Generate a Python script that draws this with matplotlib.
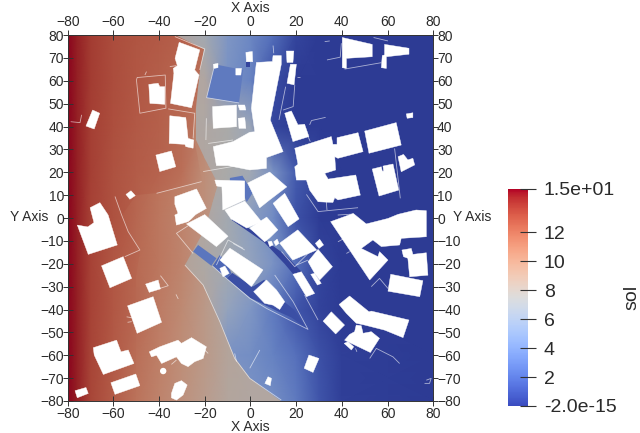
import numpy as np
import matplotlib
matplotlib.use("Agg")
import matplotlib.pyplot as plt
from matplotlib.colors import ListedColormap
from matplotlib.path import Path
from matplotlib.patches import Polygon, Circle
from matplotlib.cm import ScalarMappable
from matplotlib.colors import Normalize

plt.rcParams['font.family'] = ['Liberation Sans', 'DejaVu Sans']

# field values, west part of the domain
west_x = [-80, -76, -70, -60, -50, -40, -30, -20, -10, 0, 20]
field_y = [80, 60, 40, 20, 0, -20, -40, -60, -80]
west_sol = [
    [15, 14.5, 13.6, 13.0, 12.6, 12.3, 11.8, 10.5, 9.0, 8.0, 8.0],
    [15, 14.5, 13.6, 13.0, 12.5, 12.1, 11.5, 10.5, 9.0, 8.0, 8.0],
    [15, 14.5, 13.5, 12.9, 12.4, 11.9, 11.3, 10.2, 8.5, 8.0, 8.0],
    [15, 14.5, 13.5, 12.8, 12.1, 11.4, 10.8, 10.0, 8.7, 8.0, 8.0],
    [15, 14.5, 13.4, 12.7, 11.9, 11.2, 10.6, 9.8, 8.5, 8.0, 8.0],
    [15, 14.5, 13.4, 12.6, 11.8, 11.2, 10.5, 9.5, 8.2, 7.8, 7.8],
    [15, 14.5, 13.4, 12.6, 11.9, 11.0, 10.2, 9.2, 8.2, 7.8, 7.8],
    [15, 14.5, 13.3, 12.5, 11.6, 10.8, 10.0, 9.2, 8.3, 8.0, 8.0],
    [15, 14.5, 13.3, 12.4, 11.4, 10.6, 9.8, 9.0, 8.2, 8.0, 8.0],
]

# red part, behind the walls north of the tan area
red_x = [-80, -76, -70, -60, -50, -40, -30, -20]
red_y = [80, 60, 40, 20, 0, -20, -40, -80]
red_sol = [
    [15, 14.5, 13.6, 13.0, 12.7, 12.5, 12.2, 11.5],
    [15, 14.5, 13.6, 13.0, 12.6, 12.3, 12.0, 11.5],
    [15, 14.5, 13.5, 12.9, 12.5, 12.2, 11.8, 11.0],
    [15, 14.5, 13.5, 12.8, 12.4, 12.1, 11.6, 10.0],
    [15, 14.5, 13.4, 12.8, 12.3, 11.5, 10.8, 9.8],
    [15, 14.5, 13.4, 12.6, 12.0, 11.2, 10.5, 9.5],
    [15, 14.5, 13.4, 12.6, 11.9, 11.0, 10.2, 9.2],
    [15, 14.5, 13.3, 12.4, 11.4, 10.6, 9.8, 9.0],
]
red_region = [(-80, 80), (-33, 80), (-20, 73.9), (-22.2, 64.7), (-24.4, 45.8), (-25.1, 34.8), (-24, 30), (-21.4, 15.9),
              (-41.1, 10.8), (-50, 10), (-56.4, 1.3), (-53.5, -6), (-48.4, -14), (-50, -25), (-50, -80), (-80, -80)]

# east of the walls
east_x = [-40, -20, -10, 0, 10, 20, 30, 40, 80]
east_sol = [
    [9.0, 7.0, 4.8, 3.8, 2.4, 0.5, 0, 0, 0],
    [8.0, 8.0, 4.5, 3.5, 0.8, 0, 0, 0, 0],
    [8.0, 7.9, 7.5, 6.5, 0.5, 0, 0, 0, 0],
    [8.5, 8.0, 7.5, 6.8, 4.5, 1.5, 0.4, 0, 0],
    [8.5, 8.0, 7.0, 5.5, 4.0, 1.0, 0.1, 0, 0],
    [9.0, 7.8, 7.0, 6.0, 4.5, 2.5, 0.5, 0, 0],
    [9.0, 8.0, 6.0, 4.8, 3.0, 1.2, 0.4, 0, 0],
    [9.0, 8.2, 4.5, 4.2, 3.4, 2.5, 1.0, 0.2, 0],
    [9.0, 8.0, 6.0, 4.5, 4.2, 3.0, 1.2, 0.2, 0],
]
east_region = [(-33, 80), (-20.5, 74), (-22.2, 64.7), (-24, 48), (-24, 34), (-20, 26), (-14, 15), (-20, -5),
               (-28.7, -20.6), (-20.7, -29.3), (-13.4, -45.3), (-6.9, -61.4), (-0.3, -70.1), (13.5, -80),
               (80, -80), (80, 80)]

# enclosed pockets with their own sol level
pockets = [
    ([(-15.6, 67.2), (-3.2, 64.7), (-5, 50.3), (-19.2, 52.6)], 3.0),
    ([(-1.8, 68.3), (0, 68.3), (0, 66), (-1.8, 66)], 0.5),
    ([(-9, 17.5), (-3.5, 18.5), (1, 11), (-1.6, 7), (-5.5, 15.9), (-9, 15.9)], 2.8),
    ([(-25.1, -14.7), (-22.9, -11.8), (-14.9, -17.6), (-17.1, -20.9)], 2.8),
    ([(-16.6, -21), (-13.4, -16.2), (-10.5, -19.1), (-8.3, -24.2), (-10.5, -26.4)], 2.0),
    ([(-10.5, -26.4), (-8, -24), (1, -30), (6, -27), (14, -36), (19, -40), (25.2, -48.7), (18, -43.5),
      (12.8, -41.2), (0, -35)], 0.9),
    ([(-7.7, 1.3), (-0.3, -4.8), (6.3, -9.6), (15.4, -16.2), (23.7, -24.9), (19.8, -25.8), (15, -20.1),
      (6.3, -10.9), (-8.2, -0.9)], 0.4),
]

buildings = [
    [(-31.2, 76.8), (-22.2, 73.5), (-24.4, 64.7), (-22.5, 62.5), (-25.8, 48.2), (-35, 50.1), (-33.5, 63.3),
     (-33.8, 65.4), (-32, 66.6), (-33, 69.8)],
    [(-44.5, 58.4), (-40.4, 58.9), (-39.7, 57.4), (-37.5, 57.4), (-37.5, 49.7), (-44, 50.1)],
    [(-69.1, 47.2), (-66, 45.8), (-68.4, 38.9), (-72, 40.2)],
    [(-35.3, 44.7), (-28.3, 43.9), (-27.3, 34.8), (-24.8, 34.1), (-25.1, 30.5), (-28.3, 31.2), (-28.7, 32.2),
     (-35.6, 32.6)],
    [(-41.4, 27.5), (-34.6, 29.3), (-32.7, 22.4), (-39.7, 20.3)],
    [(-54.5, 10.3), (-52.3, 11.9), (-50.4, 9.8), (-52.8, 8.2)],
    [(-70.2, 4.5), (-65.9, 6.7), (-62.3, 1.3), (-58.3, -11.8), (-71, -15.9), (-75.8, -3.1), (-71.2, -3.9),
     (-68.5, -2)],
    [(-65.2, -20.9), (-55.7, -16.9), (-52, -26.4), (-61.5, -30.5)],
    [(-45.9, -28.9), (-40.4, -27.1), (-39.4, -31), (-44.3, -32.5)],
    [(-53.8, -38.4), (-42.6, -34.4), (-38.9, -45.6), (-49.6, -50.4)],
    [(-68.8, -56.7), (-58.6, -53.4), (-56.7, -58.5), (-53.5, -57.7), (-51, -63.6), (-64.4, -68.4), (-68.4, -59.9)],
    [(-61.1, -72), (-50.2, -68.2), (-48.4, -73.3), (-59.3, -77.1)],
    [(-76.8, -75.5), (-72, -74.1), (-71, -76.7), (-75.8, -78.6)],
    [(-34.6, -76.7), (-33.1, -72.3), (-30.2, -71.1), (-27.7, -73), (-29.5, -77.4), (-32.4, -79.6), (-34.6, -78.6)],
    [(-44.3, -58.5), (-39.7, -56.3), (-31.7, -53.4), (-30.2, -54.8), (-25.8, -52.3), (-19.3, -56.3), (-20.7, -61.4),
     (-24.4, -62.8), (-27.3, -65), (-30.2, -63.6), (-32.4, -60.7), (-38.9, -63.6), (-41.1, -60), (-43.3, -60.7)],
    [(-16.6, 48.7), (-6.1, 49.4), (-6.1, 39.9), (-16.3, 39.2)],
    [(-5.4, 43.6), (-2.5, 43.9), (-2, 39.2), (-5, 39.2)],
    [(-5.4, 49.4), (-2.5, 49.4), (-2, 47.2), (-4.7, 47.2)],
    [(-6.4, 65.4), (-3.9, 65.4), (-4.2, 62.5), (-6.4, 62.5)],
    [(-16.3, 67.2), (-14.2, 67.6), (-14.2, 65.7), (-16, 65.4)],
    [(-2, 72.4), (0.8, 72.8), (1, 68.3), (-1.8, 68.3)],
    [(2.6, 68), (9.6, 68.4), (9.9, 71), (13.5, 71), (13.5, 67.2), (8.7, 42.8), (14.3, 29), (7, 26.4), (7, 21.7),
     (-0.3, 21), (-9.8, 22.9), (-14.9, 22.9), (-16.3, 31.2), (-7.6, 33.4), (-0.3, 37.5), (1.9, 37.7), (0.4, 48)],
    [(15.7, 73), (19, 73), (18.6, 68), (16, 68)],
    [(17.5, 67.2), (20.1, 67.2), (19.1, 58.2), (16, 58.9)],
    [(40.2, 78.9), (53.3, 75.9), (53.3, 70.5), (42, 69.8), (42, 65.4), (40.2, 65.7)],
    [(58.7, 75.9), (69.4, 74.2), (69.4, 71.6), (59.5, 70.5), (59.5, 65.4), (57.3, 65.7), (57.7, 71), (58.7, 71.3)],
    [(68.2, 45.5), (71.1, 46), (71.1, 43.9), (68.6, 43.6)],
    [(15, 45.8), (17.9, 46.8), (20.8, 40.7), (23.7, 41), (25.6, 35.6), (18.6, 33.4)],
    [(19.4, 30.5), (35.4, 35.6), (36.1, 32.2), (37.9, 32.2), (37.9, 35.1), (47.1, 37.3), (49.3, 29), (38.3, 26.1),
     (36.9, 26.8), (37.3, 21), (32.5, 19.5), (34, 17), (46.1, 18.8), (48.1, 10), (38.3, 7.9), (36.9, 8.9), (36.1, 6.8),
     (29.6, 7.1), (25.9, 12.2), (24.5, 16.6), (20.1, 16.6), (19.4, 22.4), (20.8, 23.5)],
    [(50, 38), (63.8, 41.7), (66, 31.9), (51.9, 28.3)],
    [(64.6, 26.8), (67, 27.8), (68.9, 25.4), (71.1, 26.1), (71.9, 23.2), (66, 20.2)],
    [(53.3, 21.4), (57.3, 22.4), (57.7, 20.5), (58.3, 20.5), (58, 22.7), (62.4, 23.6), (64.9, 12.2), (56.3, 9.6)],
    [(-1.2, 15.3), (8.4, 20.1), (15.9, 13.6), (8.4, 7.9), (4, 4.4)],
    [(9.9, 6.4), (15, 10.8), (21.3, -0.4), (16.5, -3.8)],
    [(-0.3, -4.4), (7.1, 0.4), (12, -5.2), (8.4, -8.7), (6.2, -10.4)],
    [(-15.6, 16.6), (-2.5, 16.2), (-2.5, 7.9), (-12.1, 3.5), (-12.5, 13.6), (-14.8, 14)],
    [(-33.1, 9.3), (-23.6, 12.7), (-19.3, 4.2), (-24, 1.5), (-26, -0.5), (-27.3, -1.6), (-32.4, -3.1), (-33.1, 1.3),
     (-31.7, 2), (-33.1, 6)],
    [(-28, -2.6), (-20, 1.5), (-9.8, -8), (-14.9, -12.5)],
    [(-13.4, -22), (-11.2, -21), (-9.3, -24.2), (-12, -25.7)],
    [(-13.4, -18.4), (-9, -13.2), (5.5, -22.7), (0.4, -30)],
    [(1.4, -32.2), (7, -27.1), (11.4, -31.5), (15, -36.6), (12.8, -40), (9.9, -38.1), (6.2, -37.3)],
    [(-11.2, 3.5), (-2.5, 7.4), (4.9, -1.7), (-1.6, -4.4), (-8.5, -0.4)],
    [(12.8, -11), (20.7, -5.2), (29, -14), (18.5, -18.4)],
    [(28.4, -11.1), (30.3, -9.3), (32, -11.8), (30, -13.3)],
    [(25.2, -19.1), (29.6, -13.7), (35.9, -21.3), (30.3, -27.1), (28.1, -24.2)],
    [(26.4, -24.6), (28.1, -24.2), (31, -28.6), (29.3, -29.3)],
    [(18.6, -24.6), (22.3, -23.5), (28.1, -33), (24.5, -34.4)],
    [(7.7, -10.4), (9.2, -10.1), (9.9, -11.8), (8.4, -12.5)],
    [(10.2, -10.4), (11.7, -9.2), (12.5, -11.1), (11.1, -12.1)],
    [(35.1, -1.6), (45, 2), (50.7, -2.6), (60.2, -0.2), (64.6, 1.6), (72.5, 3.5), (77, 3.2), (77, -8.2), (66, -8.9),
     (65.3, -11.8), (57.3, -12.5), (53.6, -9.6), (48.5, -13.3), (55.8, -16.9), (56.5, -14.7), (60.2, -18.4),
     (52.2, -27.1)],
    [(66.3, -14), (70.4, -13.3), (71.1, -15.9), (77, -15.2), (77.7, -25), (69.7, -25.7), (68.9, -17.6), (67, -16.9)],
    [(61.4, -24.6), (75.5, -27.4), (74.1, -34.4), (60.2, -32)],
    [(38.8, -37.8), (43.4, -34.1), (51.9, -41), (52.9, -40.7), (69.4, -44.6), (66.8, -52.3), (58.7, -49), (50, -46.8),
     (46.3, -46), (42, -41.7)],
    [(31.8, -45.1), (35.4, -41), (41.2, -46.8), (37.3, -50.7)],
    [(46.3, -46.8), (48.5, -47.1), (49.3, -50.4), (52.9, -49.7), (56.5, -52.6), (52.5, -58.8), (41.2, -53.4),
     (43.4, -50.9), (45.6, -49.7)],
    [(41, -54.8), (42.7, -54.1), (45.2, -56.3), (44.2, -57.7)],
    [(25.6, -59.9), (30, -61.4), (27.4, -67.5), (23.5, -65.7)],
    [(6.3, -72.3), (7.7, -69.4), (9.2, -70.1), (8.7, -73.3)],
]
round_buildings = [(-38.2, -66.9, 1.4)]

walls = [
    [(-49.6, 61.4), (-37.3, 62.5), (-37, 48), (-48.4, 45.8), (-49.9, 60.3), (-49.6, 61.4)],
    [(-46.2, 62.5), (-45.5, 64)],
    [(-78.7, 42.1), (-74.6, 41.7), (-73.9, 45.1)],
    [(-35.3, 66.2), (-32.4, 66.6)],
    [(-36, 47.7), (-24.4, 45.8), (-25.1, 34.8)],
    [(-33.1, 79.3), (-20, 73.9), (-22.2, 64.7)],
    [(-19.3, 43.6), (-19.5, 34.1)],
    [(-18.5, 32.6), (-7.6, 34.1)],
    [(-41.1, 10.8), (-21.4, 15.9)],
    [(-20.7, 20.3), (-3.9, 23.2)],
    [(-59.3, 9.4), (-56.4, 1.3), (-53.5, -6), (-48.4, -14), (-55, -16.9)],
    [(-27.3, -3.4), (-32.4, -6.7), (-25.1, -15.5)],
    [(-28.7, -20.6), (-20.7, -29.3), (-13.4, -45.3), (-6.9, -61.4), (-0.3, -70.1), (13.5, -79.6)],
    [(-39.4, -25.2), (-36, -29.6), (-39.7, -30.8)],
    [(-32.6, -33.4), (-31.6, -35.4)],
    [(-54.2, -43.2), (-52, -43.6)],
    [(-53.8, -45.6), (-52, -45.3)],
    [(-6.9, -59.2), (-6.1, -62.8)],
    [(-34.6, -64), (-32.4, -62.1)],
    [(-20, -57.7), (-18.5, -59.2)],
    [(-14.9, -20.6), (-9.8, -9.6), (-3.2, -13.3)],
    [(-7.6, -11.1), (-2.5, -14)],
    [(-16.6, -21), (-10.5, -26.4), (-0.3, -35.1), (7, -39.5), (14.3, -43.2), (25.2, -48.7), (18.7, -36.6), (10.6, -24.9)],
    [(23.7, -33.7), (29.6, -44.6)],
    [(4.1, -57.7), (-0.3, -65.7)],
    [(13.6, -14.7), (19.4, -21.3), (27.4, -13.3)],
    [(20.1, -20.6), (25.2, -18.4)],
    [(52.9, -30), (56.5, -26.4), (60.2, -30.8)],
    [(38.3, -10.4), (40.5, -9.2)],
    [(42, -15.5), (43.4, -14.7)],
    [(52.2, -61.4), (55.1, -57), (62.4, -60.7), (65.3, -63.6)],
    [(77, -70.9), (79.1, -70.1), (78.4, -72.3), (76.2, -72.3)],
    [(46, -57), (46.6, -58.5)],
    [(9.9, 75.4), (10.2, 72)],
    [(32.5, 77.1), (34.7, 77.4)],
    [(33.5, 69.1), (39.3, 70.3), (39.8, 76.4)],
    [(41.2, 65.1), (57.3, 67.9)],
    [(53.9, 78.9), (60.2, 77.4)],
    [(20.5, 61.5), (21.9, 61.5)],
    [(15.4, 57.4), (12.5, 42.9)],
    [(19.4, 58.2), (18.7, 48.7), (14.3, 47.2)],
    [(25.9, 40.7), (26.7, 42.6), (32.9, 44)],
    [(25.2, 35.6), (26.2, 33.4)],
    [(63.1, 30.4), (65.6, 8.6)],
    [(24.5, 10.3), (29.6, 2.8), (47.1, 4.5)],
    [(33.2, 7.1), (33.5, 3.5)],
    [(38.2, 1.3), (44.7, 1.7)],
    [(-15.6, 67.2), (-19.2, 52.6), (-5, 50.3)],
]

x_ticks = [-80, -60, -40, -20, 0, 20, 40, 60, 80]
y_ticks = [80, 70, 60, 50, 40, 30, 20, 10, 0, -10, -20, -30, -40, -50, -60, -70, -80]
bar_ticks = [0, 2, 4, 6, 8, 10, 12, 15]
bar_labels = ["-2.0e-15", "2", "4", "6", "8", "10", "12", "1.5e+01"]

text_color = "#2a2a2a"
muted = ListedColormap(plt.cm.coolwarm(np.linspace(0, 1, 256))[:, :3] * 0.77)
norm = Normalize(0, 15)

fig = plt.figure(figsize=(6.4, 4.33), dpi=100)
ax = fig.add_axes([67.7 / 640, 1 - 401 / 433, 365.5 / 640, 366 / 433])

wx, wy = np.meshgrid(west_x, field_y)
ax.pcolormesh(wx, wy, np.array(west_sol), shading="gouraud", cmap=muted, norm=norm, zorder=1)
rx, ry = np.meshgrid(red_x, red_y)
red_mesh = ax.pcolormesh(rx, ry, np.array(red_sol), shading="gouraud", cmap=muted, norm=norm, zorder=1.5)
red_mesh.set_clip_path(Path(red_region + [red_region[0]]), ax.transData)
ex, ey = np.meshgrid(east_x, field_y)
east_mesh = ax.pcolormesh(ex, ey, np.array(east_sol), shading="gouraud", cmap=muted, norm=norm, zorder=2)
east_mesh.set_clip_path(Path(east_region + [east_region[0]]), ax.transData)

for verts, level in pockets:
    ax.add_patch(Polygon(verts, closed=True, fc=muted(norm(level)), ec="none", zorder=3))
for w in walls:
    w = np.array(w)
    ax.plot(w[:, 0], w[:, 1], color="white", alpha=0.6, lw=0.6, zorder=4, solid_capstyle="butt")
for verts in buildings:
    ax.add_patch(Polygon(verts, closed=True, fc="white", ec="white", lw=0.3, zorder=5))
for cx, cy, r in round_buildings:
    ax.add_patch(Circle((cx, cy), r, fc="white", ec="none", zorder=5))

ax.set_xlim(-80, 80)
ax.set_ylim(-80, 80)
ax.set_xticks(x_ticks)
ax.set_yticks(y_ticks)
ax.tick_params(axis="both", direction="inout", length=7.5, width=0.7, color="#333333", labelsize=10,
               labelcolor=text_color, top=True, right=True, labeltop=True, labelright=True)
ax.tick_params(axis="x", pad=0.6)
ax.tick_params(axis="y", pad=-1)
for s in ax.spines.values():
    s.set_linewidth(0.7)
    s.set_color("#333333")
    s.set_zorder(6)

# ParaView style axis titles on all four sides
fig.text(250 / 640, 1 - 8 / 433, "X Axis", ha="center", va="center", fontsize=10, color=text_color)
fig.text(250 / 640, 1 - 427 / 433, "X Axis", ha="center", va="center", fontsize=10, color=text_color)
fig.text(29 / 640, 1 - 217 / 433, "Y Axis", ha="center", va="center", fontsize=10, color=text_color)
fig.text(472 / 640, 1 - 217 / 433, "Y Axis", ha="center", va="center", fontsize=10, color=text_color)

cax = fig.add_axes([508 / 640, 1 - 406 / 433, 20 / 640, 217 / 433])
cb = fig.colorbar(ScalarMappable(norm=norm, cmap="coolwarm"), cax=cax)
cb.outline.set_visible(False)
cb.set_ticks(bar_ticks, labels=bar_labels)
cb.ax.minorticks_off()
cax.tick_params(axis="y", direction="inout", length=11, width=0.8, color="#333333", labelsize=14,
                labelcolor=text_color, pad=6)
fig.text(632 / 640, 1 - 297 / 433, "sol", rotation=90, ha="center", va="center", fontsize=14, color=text_color)

fig.savefig("out.png", dpi=100)
